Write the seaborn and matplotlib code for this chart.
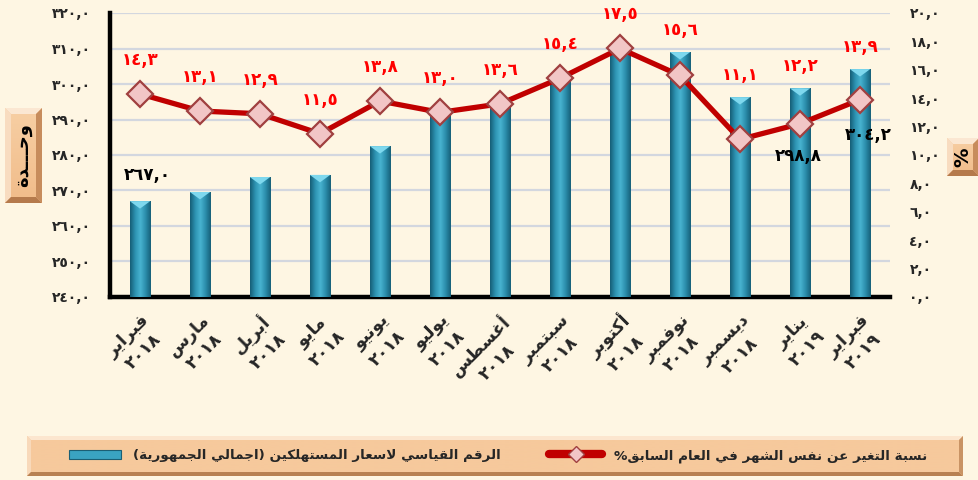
import re
import numpy as np
import pandas as pd
import matplotlib
matplotlib.use("Agg")
import matplotlib.pyplot as plt
from matplotlib.patches import Patch, Polygon
from matplotlib.lines import Line2D
from matplotlib.colors import LinearSegmentedColormap
import seaborn as sns

# ── Data ──────────────────────────────────────────────────────────────────────
months = ["فبراير", "مارس", "أبريل", "مايو", "يونيو", "يوليو", "أغسطس",
          "سبتمبر", "أكتوبر", "نوفمبر", "ديسمبر", "يناير", "فبراير"]
years = ["٢٠١٨"] * 11 + ["٢٠١٩"] * 2
cpi = [267.0, 269.6, 273.8, 274.4, 282.5, 291.3, 294.6,
       301.5, 310.0, 309.0, 296.3, 298.8, 304.2]
pct = [14.3, 13.1, 12.9, 11.5, 13.8, 13.0, 13.6,
       15.4, 17.5, 15.6, 11.1, 12.2, 13.9]
cpi_labelled = [0, 11, 12]

bar_name = "الرقم القياسي لاسعار المستهلكين (اجمالي الجمهورية)"
line_name = "نسبة التغير عن نفس الشهر في العام السابق%"
left_unit = "وحـــدة"
right_unit = "%"

# ── Style ─────────────────────────────────────────────────────────────────────
BG = "#FEF6E3"
RED = "#C00000"
TEAL = "#2B90AE"
FONT = ["DejaVu Sans"]
W, H = 979, 480
BAR_LABEL_OFFSETS = [(5, 19), (-1.5, -49), (6, -47.5)]   # points, per labelled bar

# ── Minimal Arabic shaping (matplotlib has no complex text layout) ───────────
_F = {
    "ا": ("\uFE8D", "\uFE8E", None, None), "أ": ("\uFE83", "\uFE84", None, None),
    "ب": ("\uFE8F", "\uFE90", "\uFE91", "\uFE92"), "ة": ("\uFE93", "\uFE94", None, None),
    "ت": ("\uFE95", "\uFE96", "\uFE97", "\uFE98"), "ج": ("\uFE9D", "\uFE9E", "\uFE9F", "\uFEA0"),
    "ح": ("\uFEA1", "\uFEA2", "\uFEA3", "\uFEA4"), "د": ("\uFEA9", "\uFEAA", None, None),
    "ر": ("\uFEAD", "\uFEAE", None, None), "س": ("\uFEB1", "\uFEB2", "\uFEB3", "\uFEB4"),
    "ش": ("\uFEB5", "\uFEB6", "\uFEB7", "\uFEB8"), "ط": ("\uFEC1", "\uFEC2", "\uFEC3", "\uFEC4"),
    "ع": ("\uFEC9", "\uFECA", "\uFECB", "\uFECC"), "غ": ("\uFECD", "\uFECE", "\uFECF", "\uFED0"),
    "ف": ("\uFED1", "\uFED2", "\uFED3", "\uFED4"), "ق": ("\uFED5", "\uFED6", "\uFED7", "\uFED8"),
    "ك": ("\uFED9", "\uFEDA", "\uFEDB", "\uFEDC"), "ل": ("\uFEDD", "\uFEDE", "\uFEDF", "\uFEE0"),
    "م": ("\uFEE1", "\uFEE2", "\uFEE3", "\uFEE4"), "ن": ("\uFEE5", "\uFEE6", "\uFEE7", "\uFEE8"),
    "ه": ("\uFEE9", "\uFEEA", "\uFEEB", "\uFEEC"), "و": ("\uFEED", "\uFEEE", None, None),
    "ي": ("\uFEF1", "\uFEF2", "\uFEF3", "\uFEF4"), "ى": ("\uFEEF", "\uFEF0", None, None),
    "ـ": ("ـ", "ـ", "ـ", "ـ"),
}
_LAMALEF = {"ا": ("\uFEFB", "\uFEFC"), "أ": ("\uFEF7", "\uFEF8")}
_NUM = re.compile(r"[0-9\u0660-\u0669]+(?:[.,\u066B][0-9\u0660-\u0669]+)*")
_MIRROR = str.maketrans("()", ")(")
_DIGITS = str.maketrans("0123456789", "٠١٢٣٤٥٦٧٨٩")


def _dual(c):
    return c in _F and _F[c][2] is not None


def _shape(s):
    out, i = [], 0
    while i < len(s):
        c = s[i]
        if c not in _F:
            out.append(c); i += 1; continue
        jp = i > 0 and _dual(s[i - 1])
        if c == "ل" and i + 1 < len(s) and s[i + 1] in _LAMALEF:
            out.append(_LAMALEF[s[i + 1]][1 if jp else 0]); i += 2; continue
        jn = _dual(c) and i + 1 < len(s) and s[i + 1] in _F
        iso, fin, ini, med = _F[c]
        out.append(med if jp and jn else fin if jp else ini if jn else iso)
        i += 1
    return "".join(out)


def ar(text):
    lines = []
    for line in text.split("\n"):
        s = _shape(line)
        parts, pos = [], 0
        for m in _NUM.finditer(s):
            if m.start() > pos:
                parts.append(("r", s[pos:m.start()]))
            parts.append(("n", m.group()))
            pos = m.end()
        if pos < len(s):
            parts.append(("r", s[pos:]))
        lines.append("".join(p[::-1].translate(_MIRROR) if k == "r" else p
                             for k, p in reversed(parts)))
    return "\n".join(lines)


def num(v, fmt="{:.1f}"):
    return fmt.format(v).replace(".", ",").translate(_DIGITS)


def bevel_box(fig, x0, y0, x1, y1, b, face_top, face_bot, light, lighter, dark, darker):
    """Bevelled box, pixel coords measured from the top-left corner."""
    bx = fig.add_axes([x0 / W, 1 - y1 / H, (x1 - x0) / W, (y1 - y0) / H])
    bx.set_axis_off()
    w, h = x1 - x0, y1 - y0
    grad = np.linspace(0, 1, 64)[:, None]
    cmap = LinearSegmentedColormap.from_list("f", [face_top, face_bot])
    bx.imshow(grad, extent=[0, w, h, 0], cmap=cmap, aspect="auto")
    bx.add_patch(Polygon([(0, 0), (w, 0), (w - b, b), (b, b)], color=lighter, lw=0))
    bx.add_patch(Polygon([(0, 0), (b, b), (b, h - b), (0, h)], color=light, lw=0))
    bx.add_patch(Polygon([(0, h), (b, h - b), (w - b, h - b), (w, h)], color=darker, lw=0))
    bx.add_patch(Polygon([(w, 0), (w, h), (w - b, h - b), (w - b, b)], color=dark, lw=0))
    bx.set_xlim(0, w)
    bx.set_ylim(h, 0)
    return bx


# ── Figure ────────────────────────────────────────────────────────────────────
sns.set_theme(style="white")
plt.rcParams["font.family"] = FONT
plt.rcParams["font.weight"] = "bold"

fig = plt.figure(figsize=(W / 100, H / 100), dpi=100, facecolor=BG)
ax = fig.add_axes([110 / W, 1 - 297 / H, 780 / W, 284 / H], facecolor=BG)

df = pd.DataFrame({"month": [f"{m}\n{y}" for m, y in zip(months, years)],
                   "cpi": cpi, "pct": pct})
df["idx"] = range(len(df))

sns.barplot(data=df, x="idx", y="cpi", color=TEAL, width=0.34,
            saturation=1, ax=ax, zorder=3)

# cylinder-like shading on each bar
bar_cmap = LinearSegmentedColormap.from_list(
    "bar", ["#165E76", "#2D93B2", "#48B3D0", "#2B8DAB", "#176079"])
for p in ax.patches:
    x0, w, h = p.get_x(), p.get_width(), p.get_height()
    p.set_edgecolor("#124F63")
    p.set_linewidth(0.6)
    im = ax.imshow(np.linspace(0, 1, 64)[None, :], extent=[x0, x0 + w, 240, h],
                   cmap=bar_cmap, aspect="auto", zorder=3.1)
    im.set_clip_path(p)
    ax.add_patch(Polygon([(x0, h), (x0 + w, h), (x0 + w / 2, h - 2.1)],
                         color="#7ED8EE", lw=0, zorder=3.2))

ax.set_xlim(-0.5, len(df) - 0.5)
ax.set_ylim(240, 320)
ax.set_yticks(range(240, 321, 10))
ax.set_yticklabels([num(v) for v in range(240, 321, 10)])
ax.set_xticks(df["idx"])
ax.set_xticklabels([ar(s) for s in df["month"]], rotation=45, ha="right",
                   va="top", rotation_mode="anchor", multialignment="center",
                   fontsize=12.5, linespacing=1.3)
ax.tick_params(axis="y", length=0, pad=14, labelsize=10)
ax.tick_params(axis="x", length=0, pad=10)
ax.set_xlabel("")
ax.set_ylabel("")
ax.grid(axis="y", color="#D3D7DF", lw=1.6, zorder=0)
ax.set_axisbelow(True)
for s in ("top", "right"):
    ax.spines[s].set_visible(False)
ax.spines["left"].set_linewidth(3.2)
ax.spines["bottom"].set_linewidth(3.2)
ax.spines["left"].set_color("black")
ax.spines["bottom"].set_color("black")

for i, (dx, dy) in zip(cpi_labelled, BAR_LABEL_OFFSETS):
    ax.annotate(num(cpi[i]), xy=(i, cpi[i]), xytext=(dx, dy),
                textcoords="offset points", ha="center", va="center",
                fontsize=12, color="black", zorder=6)

# ── percentage line on the right axis ─────────────────────────────────────────
ax2 = ax.twinx()
sns.lineplot(data=df, x="idx", y="pct", color=RED, lw=3.8, marker="D",
             markersize=13, markerfacecolor="#F2C6C6", markeredgecolor="#A04040",
             markeredgewidth=1.6, ax=ax2, zorder=5)
ax2.set_ylim(0, 20)
ax2.set_yticks(range(0, 21, 2))
ax2.set_yticklabels([num(v) for v in range(0, 21, 2)])
ax2.tick_params(axis="y", length=0, pad=14, labelsize=10)
ax2.set_ylabel("")
ax2.set_xlabel("")
for s in ax2.spines.values():
    s.set_visible(False)
ax.set_xlim(-0.5, len(df) - 0.5)

unit_px = 284 / 20
for i, (v, p) in enumerate(zip(cpi, pct)):
    y = max(p + 34 / unit_px, (v - 240) / 4 + 22 / unit_px)
    ax2.text(i, y, num(p), color="#FF0000", ha="center", va="center",
             fontsize=12, zorder=6)

# ── unit boxes ────────────────────────────────────────────────────────────────
peach = dict(face_top="#F7CFA4", face_bot="#F1BC8A", light="#F8DCC0",
             lighter="#FBE7D2", dark="#C78C5C", darker="#B57A4C")
bx = bevel_box(fig, 5, 108, 42, 203, 6, **peach)
bx.text(18.5, 47.5, ar(left_unit), rotation=90, ha="center", va="center",
        fontsize=13, color="black")
bx = bevel_box(fig, 947, 138, 979, 176, 6, **peach)
bx.text(16, 19, right_unit, rotation=90, ha="center", va="center",
        fontsize=14, color="black")

# ── legend ────────────────────────────────────────────────────────────────────
bevel_box(fig, 27, 436, 963, 476, 4, face_top="#F6C99C", face_bot="#F6C99C",
          light="#F8D9BA", lighter="#FCE6CF", dark="#C99364", darker="#B88152")
handles = [Patch(facecolor="#3AA3C2", edgecolor="#1B5F75", lw=0.8),
           Line2D([], [], color=RED, lw=6, marker="D", markersize=8,
                  markerfacecolor="#F2C6C6", markeredgecolor="#A04040")]
fig.legend(handles, [ar(bar_name), ar(line_name)], loc="center",
           bbox_to_anchor=(498 / W, 1 - 456 / H), ncol=2, frameon=False,
           prop={"family": FONT, "weight": "bold", "size": 9.7},
           handlelength=3.9, handleheight=0.75, columnspacing=3.6, handletextpad=0.9)

fig.savefig("out.png", dpi=100, facecolor=BG)
